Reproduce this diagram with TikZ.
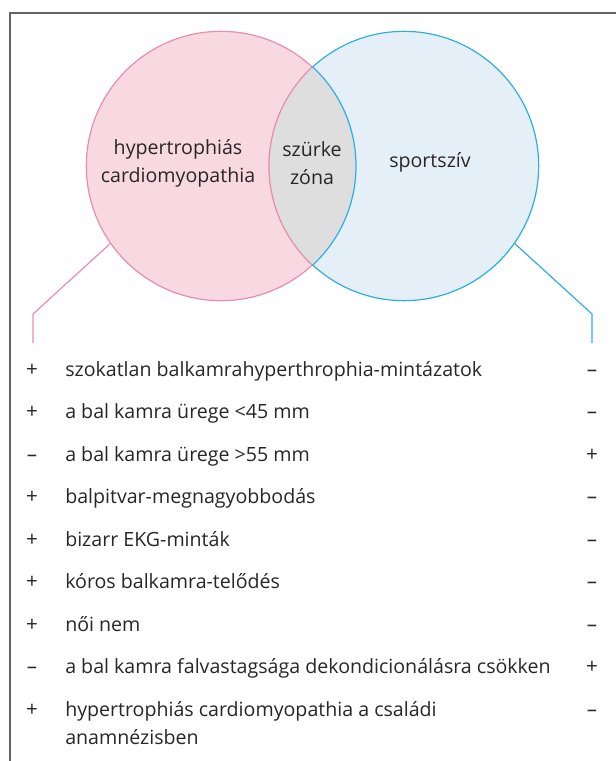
\documentclass[tikz,border=0pt]{standalone}
\usepackage{fontspec}
\setmainfont{Open Sans}
\usepackage{tikz}
\usetikzlibrary{positioning}
\definecolor{hcmline}{RGB}{236, 140, 172}
\definecolor{hcmfill}{RGB}{248, 217, 226}
\definecolor{athline}{RGB}{45, 175, 228}
\definecolor{athfill}{RGB}{229, 239, 247}
\definecolor{greyzone}{RGB}{221, 222, 221}
\definecolor{ink}{RGB}{40, 38, 40}
\definecolor{frame}{RGB}{100, 100, 100}

\begin{document}
\begin{tikzpicture}[x=0.75pt, y=-0.75pt,
  venn/.style={circle, minimum size=202pt, inner sep=0pt, line width=0.9pt},
  label/.style={font=\fontsize{14.7}{21}\selectfont, text=ink, align=center, inner sep=0pt},
  row/.style={font=\fontsize{14.7}{21}\selectfont, text=ink, anchor=base west, inner sep=0pt},
  sign/.style={font=\fontsize{15.5}{16}\selectfont, text=ink, anchor=base, inner sep=0pt}]

  \useasboundingbox (0,0) rectangle (616,761);
  \draw[frame, line width=1.2pt] (616,13) -- (10,13) -- (10,761);

  % the two sets
  \node[venn, fill=hcmfill, draw=hcmline] (hcm) at (221,166) {};
  \node[venn, fill=athfill, draw=athline] (ath) at (404,166) {};
  \begin{scope}
    \clip (221,166) circle (101.25pt);
    \fill[greyzone] (404,166) circle (101.25pt);
    \draw[hcmline, line width=0.9pt] (404,166) circle (101.25pt);
  \end{scope}
  \begin{scope}
    \clip (404,166) circle (101.25pt);
    \draw[athline, line width=0.9pt] (221,166) circle (101.25pt);
  \end{scope}

  \node[label] (hcmtxt) at (178,163) {hypertrophiás\\cardiomyopathia};
  \node[label] (greytxt) at (312,163) {szürke\\zóna};
  \node[label] (athtxt) at (430,162) {sportszív};

  % leader lines
  \coordinate (hcmbend) at (33,314);
  \coordinate (hcmend) at (33,343);
  \coordinate (athbend) at (592,314);
  \coordinate (athend) at (592,343);
  \draw[hcmline, line width=0.9pt] (hcm.215) -- (hcmbend) -- (hcmend);
  \draw[athline, line width=0.9pt] (ath.-35) -- (athbend) -- (athend);

  % criteria
  \node[row] (r1) at (65,376) {szokatlan balkamrahyperthrophia-mintázatok};
  \node[row] (r2) at (65,418.5) {a bal kamra ürege <45 mm};
  \node[row] (r3) at (65,461) {a bal kamra ürege >55 mm};
  \node[row] (r4) at (65,503.5) {balpitvar-megnagyobbodás};
  \node[row] (r5) at (65,546) {bizarr EKG-minták};
  \node[row] (r6) at (65,588.5) {kóros balkamra-telődés};
  \node[row] (r7) at (65,631) {női nem};
  \node[row] (r8) at (65,673.5) {a bal kamra falvastagsága dekondicionálásra csökken};
  \node[row] (r9) at (65,716) {hypertrophiás cardiomyopathia a családi};
  \node[row] (r9b) at (65,744) {anamnézisben};

  \node[sign] (h1) at (32,376) {+};
  \node[sign] (h2) at (32,418.5) {+};
  \node[sign] (h3) at (32,461) {–};
  \node[sign] (h4) at (32,503.5) {+};
  \node[sign] (h5) at (32,546) {+};
  \node[sign] (h6) at (32,588.5) {+};
  \node[sign] (h7) at (32,631) {+};
  \node[sign] (h8) at (32,673.5) {–};
  \node[sign] (h9) at (32,716) {+};

  \node[sign] (a1) at (592,376) {–};
  \node[sign] (a2) at (592,418.5) {–};
  \node[sign] (a3) at (592,461) {+};
  \node[sign] (a4) at (592,503.5) {–};
  \node[sign] (a5) at (592,546) {–};
  \node[sign] (a6) at (592,588.5) {–};
  \node[sign] (a7) at (592,631) {–};
  \node[sign] (a8) at (592,673.5) {+};
  \node[sign] (a9) at (592,716) {–};
\end{tikzpicture}
\end{document}
